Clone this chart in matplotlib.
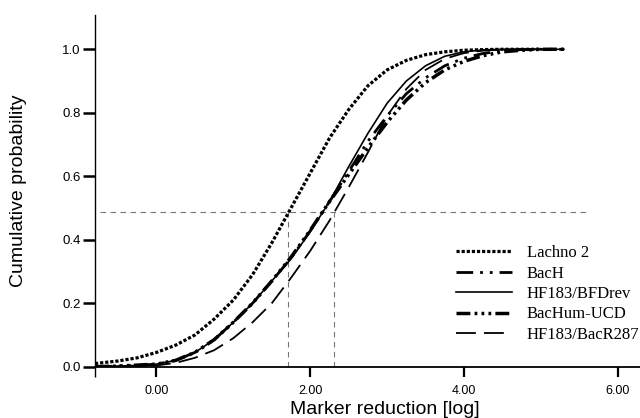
import matplotlib
matplotlib.use('Agg')
import matplotlib.pyplot as plt
import numpy as np

# values
x_lachno = [-0.8, -0.5, -0.25, 0.0, 0.25, 0.5, 0.75, 1.0, 1.25, 1.5, 1.75, 2.0, 2.25, 2.5, 2.75, 3.0, 3.25, 3.5, 3.75, 4.0, 4.25, 4.5, 5.0]
y_lachno = [0.01, 0.018, 0.028, 0.045, 0.068, 0.10, 0.15, 0.21, 0.29, 0.39, 0.50, 0.61, 0.72, 0.81, 0.885, 0.935, 0.965, 0.983, 0.992, 0.997, 0.999, 1.0, 1.0]

x_grid = [-0.8, -0.5, -0.25, 0.0, 0.25, 0.5, 0.75, 1.0, 1.25, 1.5, 1.75, 2.0, 2.25, 2.5, 2.75, 3.0, 3.25, 3.5, 3.75, 4.0, 4.25, 4.5, 4.75, 5.0, 5.3]
y_bach = [0.0, 0.002, 0.004, 0.008, 0.02, 0.045, 0.085, 0.14, 0.20, 0.27, 0.342, 0.428, 0.52, 0.615, 0.71, 0.79, 0.86, 0.91, 0.948, 0.972, 0.987, 0.995, 0.999, 1.0, 1.0]
y_bfdrev = [0.0, 0.002, 0.004, 0.008, 0.02, 0.045, 0.085, 0.14, 0.20, 0.27, 0.34, 0.425, 0.52, 0.63, 0.735, 0.83, 0.90, 0.948, 0.978, 0.992, 0.998, 1.0, 1.0, 1.0, 1.0]
y_bachum = [0.0, 0.002, 0.005, 0.008, 0.02, 0.045, 0.085, 0.14, 0.20, 0.27, 0.345, 0.43, 0.52, 0.605, 0.69, 0.77, 0.84, 0.895, 0.935, 0.962, 0.98, 0.992, 0.997, 1.0, 1.0]
y_bacr287 = [0.0, 0.001, 0.002, 0.004, 0.012, 0.028, 0.052, 0.09, 0.14, 0.20, 0.28, 0.365, 0.46, 0.565, 0.675, 0.79, 0.875, 0.935, 0.97, 0.988, 0.996, 0.999, 1.0, 1.0, 1.0]

median_x = [1.71, 2.31]
median_y = 0.487

xticks = [0, 2, 4, 6]
xtick_labels = ['0.00', '2.00', '4.00', '6.00']
yticks = [0.0, 0.2, 0.4, 0.6, 0.8, 1.0]

plt.rcParams['font.family'] = ['Liberation Sans', 'DejaVu Sans']

fig = plt.figure(figsize=(6.4, 4.18), dpi=100)
ax = fig.add_axes([95/640, 51.3/418, 545/640, 351.7/418])

# reference lines at the median
ax.plot([-0.74, 5.6], [median_y, median_y], color='#777777', lw=0.8, ls=(0, (5, 4)))
for mx in median_x:
    ax.plot([mx, mx], [0, median_y], color='#777777', lw=0.8, ls=(0, (5, 4)))

lines = []
lines += ax.plot(x_lachno, y_lachno, color='black', lw=2.3, ls=(0, (1, 0.6)), label='Lachno 2')
lines += ax.plot(x_grid, y_bach, color='black', lw=2.0, ls=(0, (6, 2.5, 1, 2.5, 1, 2.5)), label='BacH')
lines += ax.plot(x_grid, y_bfdrev, color='black', lw=1.2, ls='-', label='HF183/BFDrev')
lines += ax.plot(x_grid, y_bachum, color='black', lw=2.5, ls=(0, (4, 1.2, 0.8, 1.2, 0.8, 1.2, 0.8, 1.2)), label='BacHum-UCD')
lines += ax.plot(x_grid, y_bacr287, color='black', lw=1.3, ls=(0, (11, 4.5)), label='HF183/BacR287')

ax.set_xlim(-0.8, 6.29)
ax.set_ylim(0, 1.108)
ax.spines['top'].set_visible(False)
ax.spines['right'].set_visible(False)
ax.spines['left'].set_linewidth(1.0)
ax.spines['bottom'].set_linewidth(1.3)

ax.set_xticks(xticks)
ax.set_xticklabels(xtick_labels)
ax.set_xticks([-0.8], minor=True)
ax.set_yticks(yticks)
ax.set_yticklabels([f'{v:.1f}' for v in yticks])
ax.tick_params(axis='x', which='major', length=7, width=1.6, pad=6, labelsize=9)
ax.tick_params(axis='x', which='minor', length=7, width=1.0)
ax.tick_params(axis='y', length=8.5, width=1.8, pad=2, labelsize=9.5)

ax.set_xlabel('Marker reduction [log]', fontsize=14)
ax.set_ylabel('Cumulative probability', fontsize=14)
ax.xaxis.set_label_coords((385 - 95) / 545, -(409 - 366.7) / 351.7)
ax.yaxis.set_label_coords(-(95 - 19) / 545, 0.5)
ax.xaxis.label.set_va('center')
ax.yaxis.label.set_va('center')

fig.legend(handles=lines, loc='upper left', bbox_to_anchor=(456/640, 1 - 245/418),
           frameon=False, prop={'family': 'Liberation Serif', 'size': 12},
           handlelength=3.36, handletextpad=0.9, labelspacing=0.27, borderpad=0, borderaxespad=0)

fig.savefig('out.png', dpi=100)
